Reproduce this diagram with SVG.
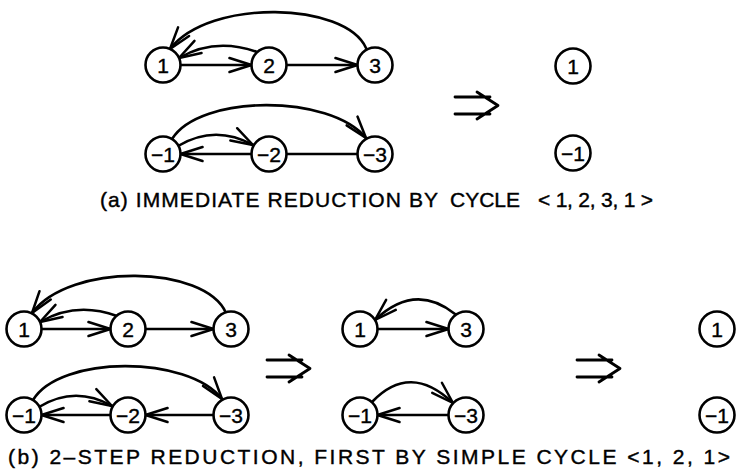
<svg xmlns="http://www.w3.org/2000/svg" width="736" height="475" viewBox="0 0 736 475">
  <defs>
    <marker id="arr" viewBox="-24 -9 26 18" refX="0" refY="0" markerWidth="26" markerHeight="18" markerUnits="userSpaceOnUse" orient="auto">
      <path d="M-22,-7 L0,0 L-22,7" fill="none" stroke="#000" stroke-width="2.5" stroke-linecap="round" stroke-linejoin="round"/>
    </marker>
  </defs>
  <style>
    .node circle { fill: #fff; stroke: #000; stroke-width: 2.6; }
    .node text { font-family: "Liberation Sans", Arial, sans-serif; font-size: 21px; text-anchor: middle; fill: #000; stroke: #000; stroke-width: 0.4; }
    .edge { fill: none; stroke: #000; stroke-width: 2.6; stroke-linecap: round; }
    .arrow { marker-end: url(#arr); }
    .imply { fill: none; stroke: #000; stroke-width: 2.8; stroke-linecap: round; stroke-linejoin: round; }
    .caption { font-family: "Liberation Sans", Arial, sans-serif; font-size: 21px; fill: #000; stroke: #000; stroke-width: 0.4; }
  </style>
  <rect width="736" height="475" fill="#fff"/>

  <!-- connectors -->
  <g id="connectors">
    <!-- (a) upper graph -->
    <path class="edge arrow" d="M180.5,65 L251.5,65"/>
    <path class="edge arrow" d="M286.5,65 L357.5,65"/>
    <path class="edge arrow" d="M257,52 Q215,37 179,58"/>
    <path class="edge arrow" d="M366,48 C345,2 210,-2 170,49"/>
    <!-- (a) lower graph -->
    <path class="edge arrow" d="M251.5,154 L180.5,154"/>
    <path class="edge" d="M286.5,154 L357.5,154"/>
    <path class="edge arrow" d="M178,146 Q215,124 253,145"/>
    <path class="edge arrow" d="M172,139 C200,94 330,94 366,138"/>

    <!-- (b) left upper graph -->
    <path class="edge arrow" d="M41.5,329 L110.5,329"/>
    <path class="edge arrow" d="M145.5,329 L213.5,329"/>
    <path class="edge arrow" d="M117,316 Q76,301 40,322"/>
    <path class="edge arrow" d="M226,313 C205,265 70,262 32,313"/>
    <!-- (b) left lower graph -->
    <path class="edge arrow" d="M110.5,415 L41.5,415"/>
    <path class="edge arrow" d="M213.5,415 L145.5,415"/>
    <path class="edge arrow" d="M39,407 Q75,385 112,406"/>
    <path class="edge arrow" d="M33,400 C60,355 188,355 222,399"/>

    <!-- (b) middle upper graph -->
    <path class="edge arrow" d="M377.5,329 L448.5,329"/>
    <path class="edge arrow" d="M455,314 Q415,282 375,320"/>
    <!-- (b) middle lower graph -->
    <path class="edge arrow" d="M448.5,415 L377.5,415"/>
    <path class="edge arrow" d="M372,402 Q410,362 453,403"/>

    <!-- implication arrows -->
    <path class="imply" d="M455,97 H490 M455,114 H490 M477,92 L498,105.5 L477,119"/>
    <path class="imply" d="M267,360 H302 M267,377 H302 M289,355 L310,368.5 L289,382"/>
    <path class="imply" d="M577,360 H612 M577,377 H612 M599,355 L620,368.5 L599,382"/>
  </g>

  <!-- (a) nodes -->
  <g id="a-n1" class="node"><circle cx="163" cy="65" r="17.5"/><text x="163" y="72.5">1</text></g>
  <g id="a-n2" class="node"><circle cx="269" cy="65" r="17.5"/><text x="269" y="72.5">2</text></g>
  <g id="a-n3" class="node"><circle cx="375" cy="65" r="17.5"/><text x="375" y="72.5">3</text></g>
  <g id="a-m1" class="node"><circle cx="163" cy="154" r="17.5"/><text x="163" y="161.5">−1</text></g>
  <g id="a-m2" class="node"><circle cx="269" cy="154" r="17.5"/><text x="269" y="161.5">−2</text></g>
  <g id="a-m3" class="node"><circle cx="375" cy="154" r="17.5"/><text x="375" y="161.5">−3</text></g>
  <g id="a-r1" class="node"><circle cx="573" cy="66" r="17.5"/><text x="573" y="73.5">1</text></g>
  <g id="a-rm1" class="node"><circle cx="573" cy="153" r="17.5"/><text x="573" y="160.5">−1</text></g>

  <!-- (b) left nodes -->
  <g id="b-n1" class="node"><circle cx="24" cy="329" r="17.5"/><text x="24" y="336.5">1</text></g>
  <g id="b-n2" class="node"><circle cx="128" cy="329" r="17.5"/><text x="128" y="336.5">2</text></g>
  <g id="b-n3" class="node"><circle cx="231" cy="329" r="17.5"/><text x="231" y="336.5">3</text></g>
  <g id="b-m1" class="node"><circle cx="24" cy="415" r="17.5"/><text x="24" y="422.5">−1</text></g>
  <g id="b-m2" class="node"><circle cx="128" cy="415" r="17.5"/><text x="128" y="422.5">−2</text></g>
  <g id="b-m3" class="node"><circle cx="231" cy="415" r="17.5"/><text x="231" y="422.5">−3</text></g>
  <!-- (b) middle nodes -->
  <g id="b-s1" class="node"><circle cx="360" cy="329" r="17.5"/><text x="360" y="336.5">1</text></g>
  <g id="b-s3" class="node"><circle cx="466" cy="329" r="17.5"/><text x="466" y="336.5">3</text></g>
  <g id="b-sm1" class="node"><circle cx="360" cy="415" r="17.5"/><text x="360" y="422.5">−1</text></g>
  <g id="b-sm3" class="node"><circle cx="466" cy="415" r="17.5"/><text x="466" y="422.5">−3</text></g>
  <!-- (b) right nodes -->
  <g id="b-r1" class="node"><circle cx="717" cy="329" r="17.5"/><text x="717" y="336.5">1</text></g>
  <g id="b-rm1" class="node"><circle cx="717" cy="415" r="17.5"/><text x="717" y="422.5">−1</text></g>

  <!-- captions -->
  <text class="caption" x="100" y="207" textLength="338" lengthAdjust="spacing">(a) IMMEDIATE REDUCTION BY</text>
  <text class="caption" x="450" y="207">CYCLE</text>
  <text class="caption" x="538" y="207" textLength="115" lengthAdjust="spacing">&lt; 1, 2, 3, 1 &gt;</text>
  <text class="caption" x="8" y="464" textLength="722" lengthAdjust="spacing">(b)  2–STEP  REDUCTION,  FIRST  BY  SIMPLE  CYCLE  &lt;1, 2, 1&gt;</text>
</svg>
